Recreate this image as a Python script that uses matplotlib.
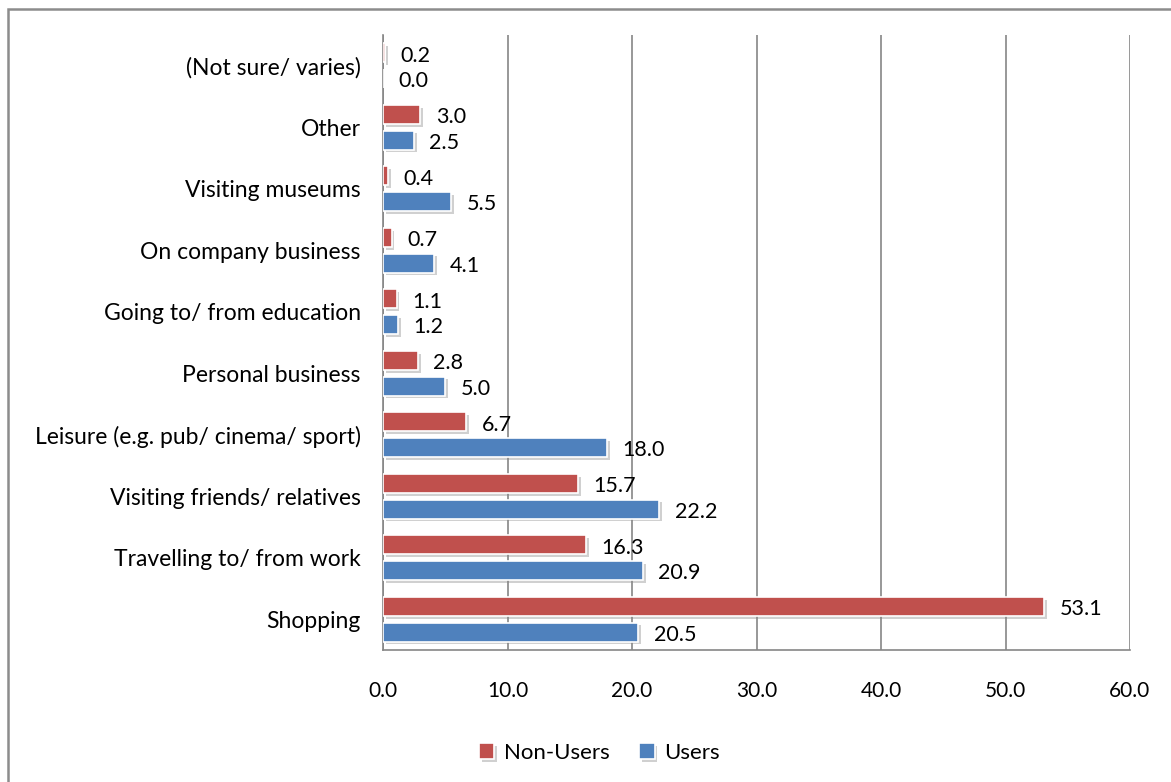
import matplotlib
matplotlib.use("Agg")
import matplotlib.pyplot as plt
import matplotlib.patheffects as pe
from matplotlib.patches import Rectangle
import numpy as np

# ── data (bottom to top) ──────────────────────────────────────────────────────
categories = [
    "Shopping",
    "Travelling to/ from work",
    "Visiting friends/ relatives",
    "Leisure (e.g. pub/ cinema/ sport)",
    "Personal business",
    "Going to/ from education",
    "On company business",
    "Visiting museums",
    "Other",
    "(Not sure/ varies)",
]
non_users = [53.1, 16.3, 15.7, 6.7, 2.8, 1.1, 0.7, 0.4, 3.0, 0.2]
users     = [20.5, 20.9, 22.2, 18.0, 5.0, 1.2, 4.1, 5.5, 2.5, 0.0]
x_ticks   = [0, 10, 20, 30, 40, 50, 60]

RED  = "#C0504D"
BLUE = "#4F81BD"
GRID = "#868686"

plt.rcParams["font.family"] = ["Lato", "DejaVu Sans"]
plt.rcParams["font.size"] = 15

fig = plt.figure(figsize=(11.71, 7.82), dpi=100)
ax = fig.add_axes([383 / 1171, 1 - 650 / 782, (1130 - 383) / 1171, (650 - 35) / 782])

y = np.arange(len(categories))
off, h = 0.21, 0.31
shadow = [pe.SimplePatchShadow(offset=(2, -2), shadow_rgbFace="#8a8a8a", alpha=0.4),
          pe.Normal()]

bars_nu = ax.barh(y + off, non_users, height=h, color=RED, edgecolor="white",
                  linewidth=1.2, label="Non-Users", zorder=3)
bars_u = ax.barh(y - off, users, height=h, color=BLUE, edgecolor="white",
                 linewidth=1.2, label="Users", zorder=3)
for b in list(bars_nu) + list(bars_u):
    b.set_path_effects(shadow)

# value labels to the right of each bar
for vals, ys in ((non_users, y + off), (users, y - off)):
    for v, yy in zip(vals, ys):
        ax.annotate(f"{v:.1f}", (v, yy), xytext=(11, -2), textcoords="offset points",
                    ha="left", va="center", fontsize=15.5, color="black")

ax.set_xlim(0, 60)
ax.set_ylim(-0.5, len(categories) - 0.5)
ax.set_xticks(x_ticks)
ax.set_xticklabels([f"{t:.1f}" for t in x_ticks], fontsize=15)
ax.set_yticks(y)
ax.set_yticklabels(categories, fontsize=16.5)
ax.tick_params(axis="y", length=0, pad=16)
ax.tick_params(axis="x", length=0, pad=22)

ax.grid(axis="x", color=GRID, linewidth=1.2, zorder=0)
ax.set_axisbelow(True)
for side in ("top", "right"):
    ax.spines[side].set_visible(False)
for side in ("left", "bottom"):
    ax.spines[side].set_color(GRID)
    ax.spines[side].set_linewidth(1.2)

fig.legend(handles=[bars_nu, bars_u], loc="center", bbox_to_anchor=(0.512, 1 - 753 / 782),
           ncol=2, frameon=False, fontsize=16, handlelength=0.7, handleheight=0.7,
           handletextpad=0.45, columnspacing=1.3)

# outer chart border
fig.patches.append(Rectangle((8 / 1171, -0.1), 1.2, 1 - 9 / 782 + 0.1, transform=fig.transFigure,
                             fill=False, edgecolor="#8c8c8c", linewidth=1.8))

fig.savefig("out.png", dpi=100)
